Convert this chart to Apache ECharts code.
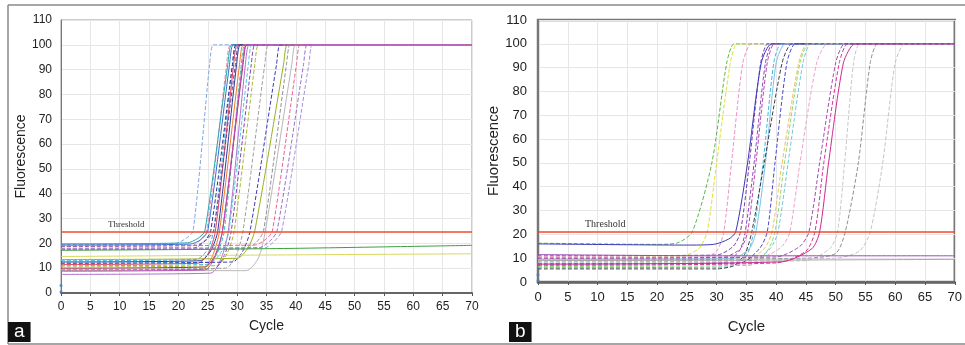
<!DOCTYPE html>
<html>
<head>
<meta charset="utf-8">
<script src="https://cdn.jsdelivr.net/npm/echarts@6/dist/echarts.min.js"></script>
<style>
  html, body { margin: 0; padding: 0; background: #fff; }
  #chart { width: 965px; height: 345px; }
</style>
</head>
<body>
<div id="chart"></div>
<script>
// axis ticks
const cycleTicks = { min: 0, max: 70, step: 5 };
const fluorTicks = { min: 0, max: 110, step: 10 };

const thresholdA = 24.5;
const thresholdB = 21;

// panel a: amplification curves, [cycle, fluorescence]
const curvesA = [
  [[0,19.5],[19.5,20],[21.3,22],[22.5,25],[25.3,92],[25.9,100],[27,100],[70,100]],
  [[0,18],[21.8,18.5],[23.6,21],[24.8,25],[28.2,92],[28.8,100],[30,100],[70,100]],
  [[0,19.8],[21.5,20.2],[23.3,22],[24.5,25],[28.4,92],[29,100],[30,100],[70,100]],
  [[0,19.3],[22,19.7],[23.8,21.5],[25,25],[28.7,92],[29.3,100],[30.5,100],[70,100]],
  [[0,13],[23,13.5],[24.8,17],[26,25],[29.2,92],[29.8,100],[31,100],[70,100]],
  [[0,17.5],[22.5,18],[24.3,20.5],[25.5,25],[29.2,92],[29.8,100],[31,100],[70,100]],
  [[0,11.5],[23.3,12],[25.1,16],[26.3,25],[29.4,92],[30,100],[31,100],[70,100]],
  [[0,18.8],[23,19.2],[24.8,21.5],[26,25],[29.7,92],[30.3,100],[31.5,100],[70,100]],
  [[0,12.5],[23.7,13],[25.5,17],[26.7,25],[29.9,92],[30.5,100],[31.5,100],[70,100]],
  [[0,9],[24,9.5],[25.8,15],[27,25],[30.4,92],[31,100],[32,100],[70,100]],
  [[0,11],[24.8,11.5],[26.6,16],[27.8,25],[30.7,92],[31.3,100],[32.5,100],[70,100]],
  [[0,10],[24.5,10.5],[26.3,15.5],[27.5,25],[31,92],[31.6,100],[32.5,100],[70,100]],
  [[0,7.5],[25.5,8],[27.3,14],[28.5,25],[31.4,92],[32,100],[33,100],[70,100]],
  [[0,12],[25.6,12.5],[27.4,17],[28.6,25],[31.9,92],[32.5,100],[33.5,100],[70,100]],
  [[0,10.5],[26.5,11],[28.3,16],[29.5,25],[33,92],[33.6,100],[34.5,100],[70,100]],
  [[0,9.3],[26,9.8],[27.8,15],[29,25],[32.4,92],[33,100],[34,100],[70,100]],
  [[0,9.5],[28,10],[29.8,15],[31,25],[34.7,92],[35.3,100],[36.5,100],[70,100]],
  [[0,9.2],[31.5,9],[33.6,14],[34.8,25],[39.3,92],[39.9,100],[41,100],[70,100]],
  [[0,12],[29.2,12.5],[31,17],[32.2,25],[36.7,92],[37.3,100],[38.5,100],[70,100]],
  [[0,13.5],[30,14],[31.8,18],[33,25],[37.9,92],[38.5,100],[39.5,100],[70,100]],
  [[0,17.5],[31.5,17.8],[33.3,20.5],[34.5,25],[38.4,92],[39,100],[40,100],[70,100]],
  [[0,19],[33,19.3],[34.8,21.5],[36,25],[40.1,92],[40.7,100],[42,100],[70,100]],
  [[0,18],[33.8,18.3],[35.6,21],[36.8,25],[41.3,92],[41.9,100],[43,100],[70,100]],
  [[0,17.8],[34.6,18.1],[36.4,21],[37.6,25],[42.2,92],[42.8,100],[44,100],[70,100]],
  [[0,17.2],[20,17.5],[40,18],[70,19.2]],
  [[0,14.7],[35,15.3],[70,15.8]],
  [[0,8.8],[24.5,9.3],[26.3,15],[27.5,25],[30.9,92],[31.5,100],[32.5,100],[70,100]]
];
const coloursA = ['#7fa7e8','#f08cb8','#28a8a8','#3a6fd0','#37b8d8','#30308a','#e04060','#7040a0','#283c9c',
  '#f07a28','#40c0b0','#a02850','#b070d0','#50c8e0','#a8b830','#8048b0','#a0a0a0','#b8b8b8','#3a3ac0',
  '#9cb020','#909090','#f06090','#9a70d0','#a890d8','#3ca040','#d8d860','#c050c0'];
const dashedA = [1,1,0,0,1,1,0,1,0, 0,1,0,0,1,1,1,1,0,1, 0,1,1,1,1,0,0,0];

// panel b
const curvesB = [
  [[0,16.3],[20,15.8],[23.5,16.5],[25.9,21],[29.2,50],[31.7,92],[32.9,100],[34,100],[70,100]],
  [[0,10.5],[24,10.8],[27,14],[28.4,21],[30,50],[32.3,92],[33.4,100],[34.5,100],[70,100]],
  [[0,9],[27,9.3],[30,13],[31.2,21],[32.5,50],[34.4,92],[35.8,100],[37,100],[70,100]],
  [[0,11],[30,11.3],[32.8,15],[34,21],[35.5,50],[37.4,92],[38.6,100],[40,100],[70,100]],
  [[0,16],[25,15.5],[29.5,15.8],[32,18],[33.2,21],[35.2,50],[37.5,92],[39.2,100],[40.5,100],[70,100]],
  [[0,7.8],[31,8],[33.8,13],[34.8,21],[36.3,50],[38.2,92],[39.4,100],[40.5,100],[70,100]],
  [[0,10],[31,10.3],[34,14],[35.2,21],[36.6,50],[38.5,92],[39.7,100],[41,100],[70,100]],
  [[0,6],[32,6.3],[35,11],[36.2,21],[37.8,50],[39.6,92],[40.8,100],[42,100],[70,100]],
  [[0,9.5],[32.5,9.8],[35.5,14],[36.6,21],[38.2,50],[40,92],[41.5,100],[42.5,100],[70,100]],
  [[0,5.5],[30,5.5],[33,7],[34.8,12],[35.9,21],[38,50],[41,92],[42.6,100],[44,100],[70,100]],
  [[0,9],[35,9.3],[38,14],[39.3,21],[41,50],[43.8,92],[45.2,100],[46.5,100],[70,100]],
  [[0,6.5],[35.5,7],[38.5,13],[39.8,21],[41.4,50],[44,92],[45.5,100],[47,100],[70,100]],
  [[0,8.5],[36,9],[39,14],[40.3,21],[42,50],[44.5,92],[45.8,100],[47,100],[70,100]],
  [[0,10.8],[38,11],[41,15],[42.3,21],[44,50],[46.8,92],[48.6,100],[50,100],[70,100]],
  [[0,7],[40,8],[45,13],[46.5,21],[48,50],[50.6,92],[52,100],[53.5,100],[70,100]],
  [[0,10],[40,10.5],[44,15],[45.5,21],[47.3,50],[50,92],[51.5,100],[53,100],[70,100]],
  [[0,8],[45,9],[49,14],[50.3,21],[51.5,50],[53,92],[54,100],[55.5,100],[70,100]],
  [[0,9],[45,10],[50,12],[51.6,21],[53.8,50],[55.8,92],[57,100],[58.5,100],[70,100]],
  [[0,8.5],[50,10],[54,13],[55.8,21],[57.9,50],[60,92],[61.6,100],[63,100],[70,100]],
  [[0,11.5],[30,11],[50,11],[70,11]],
  [[0,9],[40,9.2],[70,9.5]],
  [[0,7.5],[34,8],[37.2,14],[38.5,21],[39.8,50],[41.8,92],[43.2,100],[44.5,100],[70,100]],
  [[0,7.5],[41,8.5],[46,14],[47.3,21],[48.8,50],[51.3,92],[53.2,100],[54.5,100],[70,100]]
];
const coloursB = ['#58b848','#e0e030','#f090c8','#7a3ab0','#3838b8','#9048c0','#c040b0','#40b8e0','#80c0e8',
  '#404040','#f0c060','#90d870','#70c8e0','#f0a0d0','#d03898','#a050b0','#c8c8c8','#909090','#c4c4c4',
  '#9a48b8','#a8a8a8','#4a4ad0','#d02890'];
const dashedB = [1,1,1,1,0,1,1,1,0, 1,1,1,1,1,1,1,1,1,1, 0,0,1,0];

const startMarks = [[0,0.5],[0,3]];

const chart = echarts.init(document.getElementById('chart'));
const font = 'Liberation Sans, Arial, sans-serif';

function curveSeries(curves, colours, dashed, idx) {
  return curves.map((pts, i) => ({
    type: 'line', xAxisIndex: idx, yAxisIndex: idx, data: pts,
    showSymbol: false, smooth: 0.25, silent: true,
    lineStyle: { width: 1, color: colours[i], type: dashed[i] ? [4, 2] : 'solid' }
  }));
}

function thresholdSeries(value, idx, fs) {
  return {
    type: 'line', xAxisIndex: idx, yAxisIndex: idx, data: [],
    markLine: {
      silent: true, symbol: 'none', animation: false,
      lineStyle: { color: '#f04a2a', width: 1.5, type: 'solid' },
      label: {
        formatter: 'Threshold', position: 'insideStartTop', distance: 3,
        padding: [0, 0, 0, 44], color: '#333', fontFamily: 'Liberation Serif, serif',
        fontSize: fs
      },
      data: [{ yAxis: value }]
    }
  };
}

function xAxis(idx, fs, margin, gap, lineW) {
  return {
    gridIndex: idx, type: 'value', min: cycleTicks.min, max: cycleTicks.max, interval: cycleTicks.step,
    name: 'Cycle', nameLocation: 'middle', nameGap: gap,
    nameTextStyle: { fontFamily: font, fontSize: fs + 2, color: '#222' },
    axisLine: { lineStyle: { color: '#666', width: lineW } },
    axisTick: { show: true, length: 3, lineStyle: { color: '#555' } },
    axisLabel: { fontFamily: font, fontSize: fs, color: '#222', margin: margin },
    splitLine: { lineStyle: { color: '#e6e6e6' } }
  };
}

function yAxis(idx, fs, margin, gap) {
  return {
    gridIndex: idx, type: 'value', min: fluorTicks.min, max: fluorTicks.max, interval: fluorTicks.step,
    name: 'Fluorescence', nameLocation: 'middle', nameGap: gap,
    nameTextStyle: { fontFamily: font, fontSize: fs + 2, color: '#222' },
    axisLine: { lineStyle: { color: '#777', width: 1 } },
    axisTick: { show: false },
    axisLabel: { fontFamily: font, fontSize: fs, color: '#222', margin: margin },
    splitLine: { lineStyle: { color: '#e6e6e6' } }
  };
}

chart.setOption({
  animation: false,
  backgroundColor: '#fff',
  title: [
    { text: 'a', left: 8, top: 322, padding: [0, 6, 1, 6], backgroundColor: '#111',
      textStyle: { color: '#fff', fontSize: 19, fontWeight: 'normal', fontFamily: font } },
    { text: 'b', left: 509, top: 322, padding: [0, 6, 1, 6], backgroundColor: '#111',
      textStyle: { color: '#fff', fontSize: 19, fontWeight: 'normal', fontFamily: font } }
  ],
  graphic: [
    { type: 'line', shape: { x1: 8, y1: 5, x2: 965, y2: 5 }, style: { stroke: '#888', lineWidth: 1.5 } },
    { type: 'line', shape: { x1: 8, y1: 5, x2: 8, y2: 344 }, style: { stroke: '#888', lineWidth: 1.5 } },
    { type: 'line', shape: { x1: 8, y1: 344, x2: 965, y2: 344 }, style: { stroke: '#888', lineWidth: 1.5 } }
  ],
  grid: [
    { left: 61, top: 20, width: 411, height: 273, show: true, borderColor: '#999', borderWidth: 1 },
    { left: 538, top: 20, width: 419, height: 262, show: true, borderColor: '#777', borderWidth: 2.5 }
  ],
  xAxis: [xAxis(0, 12, 8, 26, 2), xAxis(1, 13, 9, 37, 2.5)],
  yAxis: [yAxis(0, 12, 9, 30), yAxis(1, 13, 11, 31)],
  series: [
    ...curveSeries(curvesA, coloursA, dashedA, 0),
    thresholdSeries(thresholdA, 0, 9),
    { type: 'scatter', xAxisIndex: 0, yAxisIndex: 0, data: startMarks, symbolSize: 3, itemStyle: { color: '#3a80d0' }, silent: true },
    ...curveSeries(curvesB, coloursB, dashedB, 1),
    thresholdSeries(thresholdB, 1, 10),
    { type: 'scatter', xAxisIndex: 1, yAxisIndex: 1, data: startMarks, symbolSize: 3, itemStyle: { color: '#3a80d0' }, silent: true }
  ]
});
</script>
</body>
</html>
